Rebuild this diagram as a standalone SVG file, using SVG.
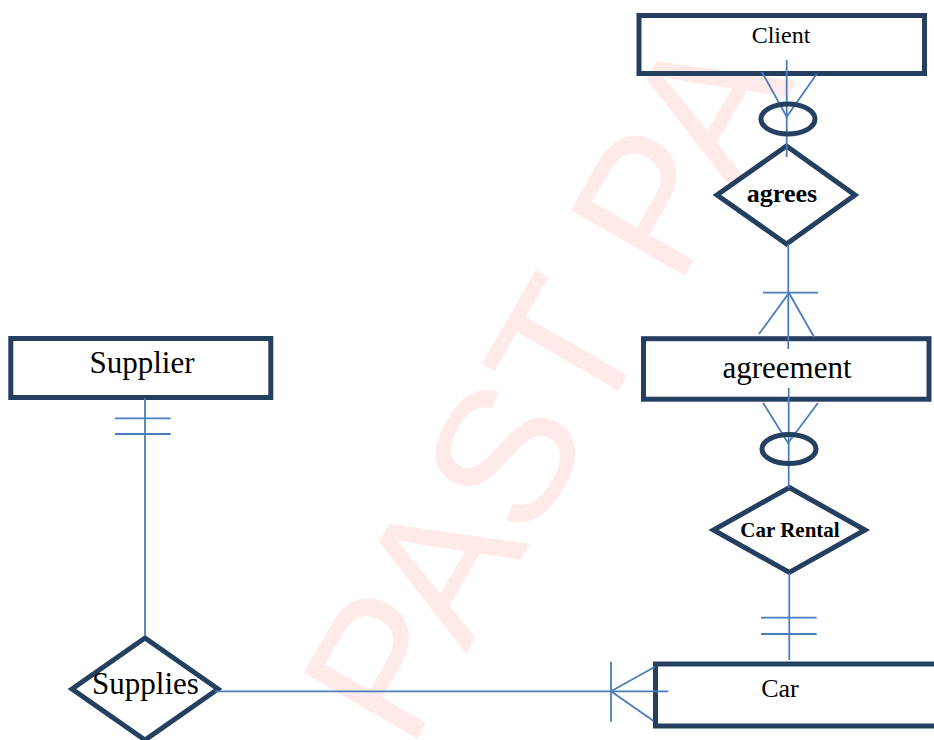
<svg xmlns="http://www.w3.org/2000/svg" width="934" height="740" viewBox="0 0 934 740">
<style>
.ent{fill:none;stroke:#243f60;stroke-width:5}
.rel{fill:none;stroke:#243f60;stroke-width:5;stroke-linejoin:miter}
.lbl{font-family:"Liberation Serif","Times New Roman",serif;fill:#000;text-anchor:middle}
.b{font-weight:bold}
.cn line,.cn polyline{stroke:#4a7ebb;stroke-width:1.8;fill:none}
.wm{font-family:"Liberation Sans",Arial,sans-serif;font-size:191px;fill:#ffe9e9}
</style>
<rect width="934" height="740" fill="#fff"/>
<text class="wm" transform="translate(409.5,752) rotate(-60)">PAST PA</text>

<g id="client">
<rect class="ent" x="639" y="15.5" width="285.5" height="58"/>
<text class="lbl" x="781" y="43" font-size="24">Client</text>
</g>
<g id="agrees">
<polygon class="rel" points="786.5,146 855,195 786.5,244 717,195"/>
<text class="lbl b" x="782" y="202" font-size="26">agrees</text>
</g>
<g id="agreement">
<rect class="ent" x="643.5" y="338.7" width="285.5" height="60.5"/>
<text class="lbl" x="787" y="378" font-size="31">agreement</text>
</g>
<g id="car-rental">
<polygon class="rel" points="789.3,487.5 865,530 789.3,572.5 713.5,530"/>
<text class="lbl b" x="790" y="537" font-size="21">Car Rental</text>
</g>
<g id="car">
<rect class="ent" x="655.5" y="664" width="300" height="62"/>
<text class="lbl" x="780" y="697" font-size="26">Car</text>
</g>
<g id="supplier">
<rect class="ent" x="10.8" y="338.5" width="260" height="59"/>
<text class="lbl" x="142" y="372.5" font-size="31">Supplier</text>
</g>
<g id="supplies">
<polygon class="rel" points="145,638 218,689 145,740 72,689"/>
<text class="lbl" x="145.5" y="694" font-size="31">Supplies</text>
</g>

<g id="connectors" class="cn">
<!-- Client - agrees -->
<line x1="786.7" y1="60" x2="786.7" y2="157"/>
<polyline points="761.7,71.7 786.7,116.7 816.7,74"/>
<ellipse cx="788" cy="119" rx="27" ry="15" fill="none" stroke="#243f60" stroke-width="5"/>
<!-- agrees - agreement -->
<line x1="788.3" y1="244" x2="788.3" y2="349"/>
<line x1="763" y1="292.7" x2="818" y2="292.7"/>
<polyline points="759,334 789,293 814,337"/>
<!-- agreement - Car Rental -->
<line x1="788.7" y1="388" x2="788.7" y2="488"/>
<polyline points="763,402.7 788,443 818,403"/>
<ellipse cx="789" cy="449" rx="27" ry="14.5" fill="none" stroke="#243f60" stroke-width="5"/>
<!-- Car Rental - Car -->
<line x1="789.3" y1="573" x2="789.3" y2="660"/>
<line x1="761" y1="617.7" x2="816.7" y2="617.7"/>
<line x1="761" y1="634" x2="816.7" y2="634"/>
<!-- Supplier - Supplies -->
<line x1="145" y1="398" x2="145" y2="636"/>
<line x1="115" y1="418.3" x2="170.7" y2="418.3"/>
<line x1="115" y1="434" x2="170.7" y2="434"/>
<!-- Supplies - Car -->
<line x1="215" y1="691.3" x2="668.3" y2="691.3"/>
<line x1="611" y1="661.7" x2="611" y2="721.7"/>
<polyline points="655,666.7 611,691.3 653.3,720.7"/>
</g>
</svg>
